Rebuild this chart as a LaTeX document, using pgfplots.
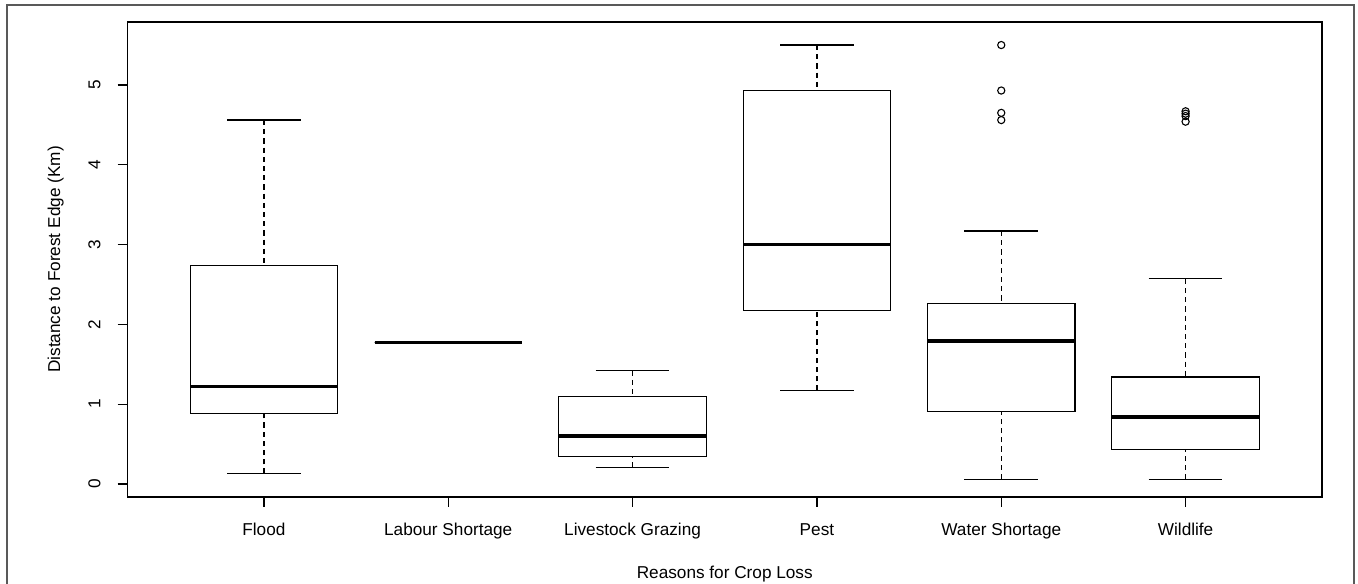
\documentclass[border=0pt]{standalone}
\usepackage{fontspec}
\setmainfont{Liberation Sans}
\usepackage{pgfplots}
\pgfplotsset{compat=1.18}
\usepgfplotslibrary{statistics}

\pgfplotsset{
  rbox/.style={
    black, line width=0.6pt, solid,
    mark=o, mark size=1.8pt, mark options={solid, line width=0.55pt, fill=none},
    boxplot/draw direction=y,
    boxplot/box extend=0.8,
    boxplot/whisker extend=0.4,
    boxplot/every median/.style={line width=1.7pt},
    boxplot/draw/lower whisker/.code={
      \draw[dash pattern=on 2.6pt off 2pt]
        (boxplot box cs:\pgfplotsboxplotvalue{lower whisker},0.5) --
        (boxplot box cs:\pgfplotsboxplotvalue{lower quartile},0.5);
      \draw (boxplot whisker cs:\pgfplotsboxplotvalue{lower whisker},0) --
        (boxplot whisker cs:\pgfplotsboxplotvalue{lower whisker},1);
    },
    boxplot/draw/upper whisker/.code={
      \draw[dash pattern=on 2.6pt off 2pt]
        (boxplot box cs:\pgfplotsboxplotvalue{upper whisker},0.5) --
        (boxplot box cs:\pgfplotsboxplotvalue{upper quartile},0.5);
      \draw (boxplot whisker cs:\pgfplotsboxplotvalue{upper whisker},0) --
        (boxplot whisker cs:\pgfplotsboxplotvalue{upper whisker},1);
    },
  }
}

\begin{document}
\begin{tikzpicture}
\useasboundingbox (0,0) rectangle (679pt,291.5pt);
\draw[black!65, line width=1pt] (3.6pt,-1pt) -- (3.6pt,288.8pt) -- (677.2pt,288.8pt) -- (677.2pt,-1pt);
\begin{axis}[
  at={(63.75pt,43pt)}, anchor=south west,
  scale only axis,
  width=597.25pt, height=237.5pt,
  xmin=0.26, xmax=6.74,
  ymin=-0.163, ymax=5.789,
  axis line style={line width=0.6pt},
  every tick/.style={black, line width=0.6pt},
  tick align=outside,
  major tick length=5pt,
  xtick pos=bottom, ytick pos=left,
  xtick={1,2,3,4,5,6},
  xticklabels={Flood, Labour Shortage, Livestock Grazing, Pest, Water Shortage, Wildlife},
  ytick={0,1,2,3,4,5},
  /pgf/number format/assume math mode=true,
  tick label style={font=\fontsize{8.6}{10}\selectfont},
  xticklabel style={anchor=base, inner sep=0pt},
  xticklabel shift=14.35pt,
  yticklabel style={rotate=90, anchor=base, inner sep=0pt},
  yticklabel shift=8.6pt,
  xlabel={Reasons for Crop Loss},
  ylabel={Distance to Forest Edge (Km)},
  label style={font=\fontsize{8.6}{10}\selectfont},
  xlabel style={at={(axis description cs:0.5,0)}, anchor=base, inner sep=0pt, yshift=-41pt},
  ylabel style={at={(axis description cs:-0.0565,0.5)}, anchor=base, inner sep=0pt},
  clip=false,
]
% Flood
\addplot[rbox, boxplot prepared={draw position=1,
  lower whisker=0.13, lower quartile=0.88, median=1.22,
  upper quartile=2.74, upper whisker=4.56}] coordinates {};
% Labour Shortage
\addplot[rbox, boxplot prepared={draw position=2,
  lower whisker=1.77, lower quartile=1.77, median=1.77,
  upper quartile=1.77, upper whisker=1.77}] coordinates {};
% Livestock Grazing
\addplot[rbox, boxplot prepared={draw position=3,
  lower whisker=0.21, lower quartile=0.34, median=0.60,
  upper quartile=1.10, upper whisker=1.42}] coordinates {};
% Pest
\addplot[rbox, boxplot prepared={draw position=4,
  lower whisker=1.17, lower quartile=2.17, median=3.00,
  upper quartile=4.93, upper whisker=5.50}] coordinates {};
% Water Shortage
\addplot[rbox, boxplot prepared={draw position=5,
  lower whisker=0.06, lower quartile=0.91, median=1.79,
  upper quartile=2.26, upper whisker=3.17}]
  table[row sep=\\, y index=0] {y\\ 5.50\\ 4.93\\ 4.65\\ 4.56\\};
% Wildlife
\addplot[rbox, boxplot prepared={draw position=6,
  lower whisker=0.06, lower quartile=0.43, median=0.84,
  upper quartile=1.34, upper whisker=2.57}]
  table[row sep=\\, y index=0] {y\\ 4.67\\ 4.64\\ 4.61\\ 4.54\\};
\end{axis}
\end{tikzpicture}
\end{document}
